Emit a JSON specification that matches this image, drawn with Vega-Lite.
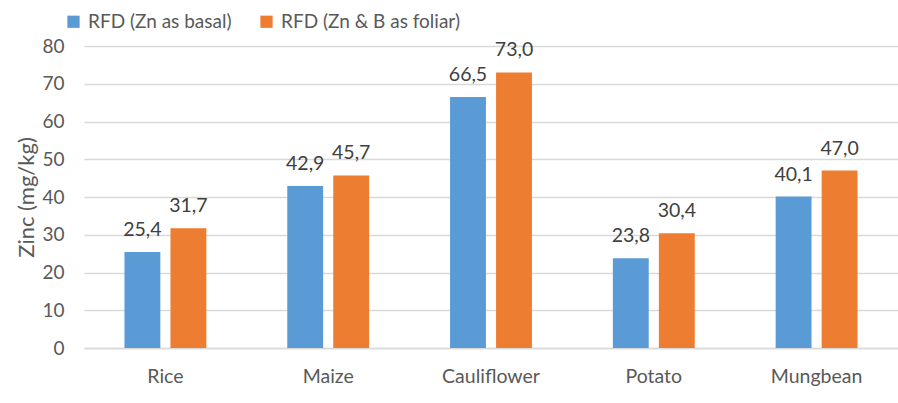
{
  "$schema": "https://vega.github.io/schema/vega-lite/v6.json",
  "width": 814,
  "height": 302,
  "autosize": {"type": "none"},
  "padding": {"left": 84, "top": 46, "right": 0, "bottom": 55},
  "background": "white",
  "config": {
    "font": "Lato",
    "view": {"stroke": null},
    "locale": {"number": {"decimal": ",", "thousands": ".", "grouping": [3], "currency": ["", "€"]}}
  },
  "data": {
    "values": [
      {"crop": "Rice", "series": "RFD (Zn as basal)", "zinc": 25.4},
      {"crop": "Rice", "series": "RFD (Zn & B as foliar)", "zinc": 31.7},
      {"crop": "Maize", "series": "RFD (Zn as basal)", "zinc": 42.9},
      {"crop": "Maize", "series": "RFD (Zn & B as foliar)", "zinc": 45.7},
      {"crop": "Cauliflower", "series": "RFD (Zn as basal)", "zinc": 66.5},
      {"crop": "Cauliflower", "series": "RFD (Zn & B as foliar)", "zinc": 73.0},
      {"crop": "Potato", "series": "RFD (Zn as basal)", "zinc": 23.8},
      {"crop": "Potato", "series": "RFD (Zn & B as foliar)", "zinc": 30.4},
      {"crop": "Mungbean", "series": "RFD (Zn as basal)", "zinc": 40.1},
      {"crop": "Mungbean", "series": "RFD (Zn & B as foliar)", "zinc": 47.0}
    ]
  },
  "encoding": {
    "x": {
      "field": "crop", "type": "nominal", "sort": null,
      "scale": {"paddingInner": 0.497, "paddingOuter": 0.2485},
      "axis": {"title": null, "labelAngle": 0, "ticks": false, "domain": true, "domainColor": "#d9d9d9", "domainWidth": 1.5, "labelFontSize": 19.5, "labelColor": "#595959", "labelPadding": 19}
    },
    "xOffset": {"field": "series", "type": "nominal", "sort": ["RFD (Zn as basal)", "RFD (Zn & B as foliar)"], "scale": {"domain": ["RFD (Zn as basal)", "RFD (Zn & B as foliar)"], "paddingInner": 0.22}},
    "y": {
      "field": "zinc", "type": "quantitative",
      "scale": {"domain": [0, 80]},
      "axis": {"title": "Zinc (mg/kg)", "titleFontSize": 22, "titleFontWeight": "normal", "titleColor": "#595959", "titlePadding": 3, "values": [0,10,20,30,40,50,60,70,80], "labelOverlap": false, "ticks": false, "domain": false, "gridColor": "#d9d9d9", "gridWidth": 1.3, "labelFontSize": 19, "labelColor": "#595959", "labelPadding": 20}
    }
  },
  "layer": [
    {
      "mark": {"type": "bar"},
      "encoding": {
        "color": {
          "field": "series", "type": "nominal",
          "scale": {"domain": ["RFD (Zn as basal)", "RFD (Zn & B as foliar)"], "range": ["#5B9BD5", "#ED7D31"]},
          "legend": {"title": null, "orient": "none", "legendX": -20, "legendY": -34, "direction": "horizontal", "symbolType": "square", "symbolSize": 150, "labelFontSize": 19, "labelColor": "#595959", "labelLimit": 0, "columnPadding": 25, "labelOffset": 5}
        }
      }
    },
    {
      "mark": {"type": "text", "dy": -22, "fontSize": 19.5, "color": "#404040"},
      "encoding": {"text": {"field": "zinc", "type": "quantitative", "format": ".1f"}}
    }
  ]
}
